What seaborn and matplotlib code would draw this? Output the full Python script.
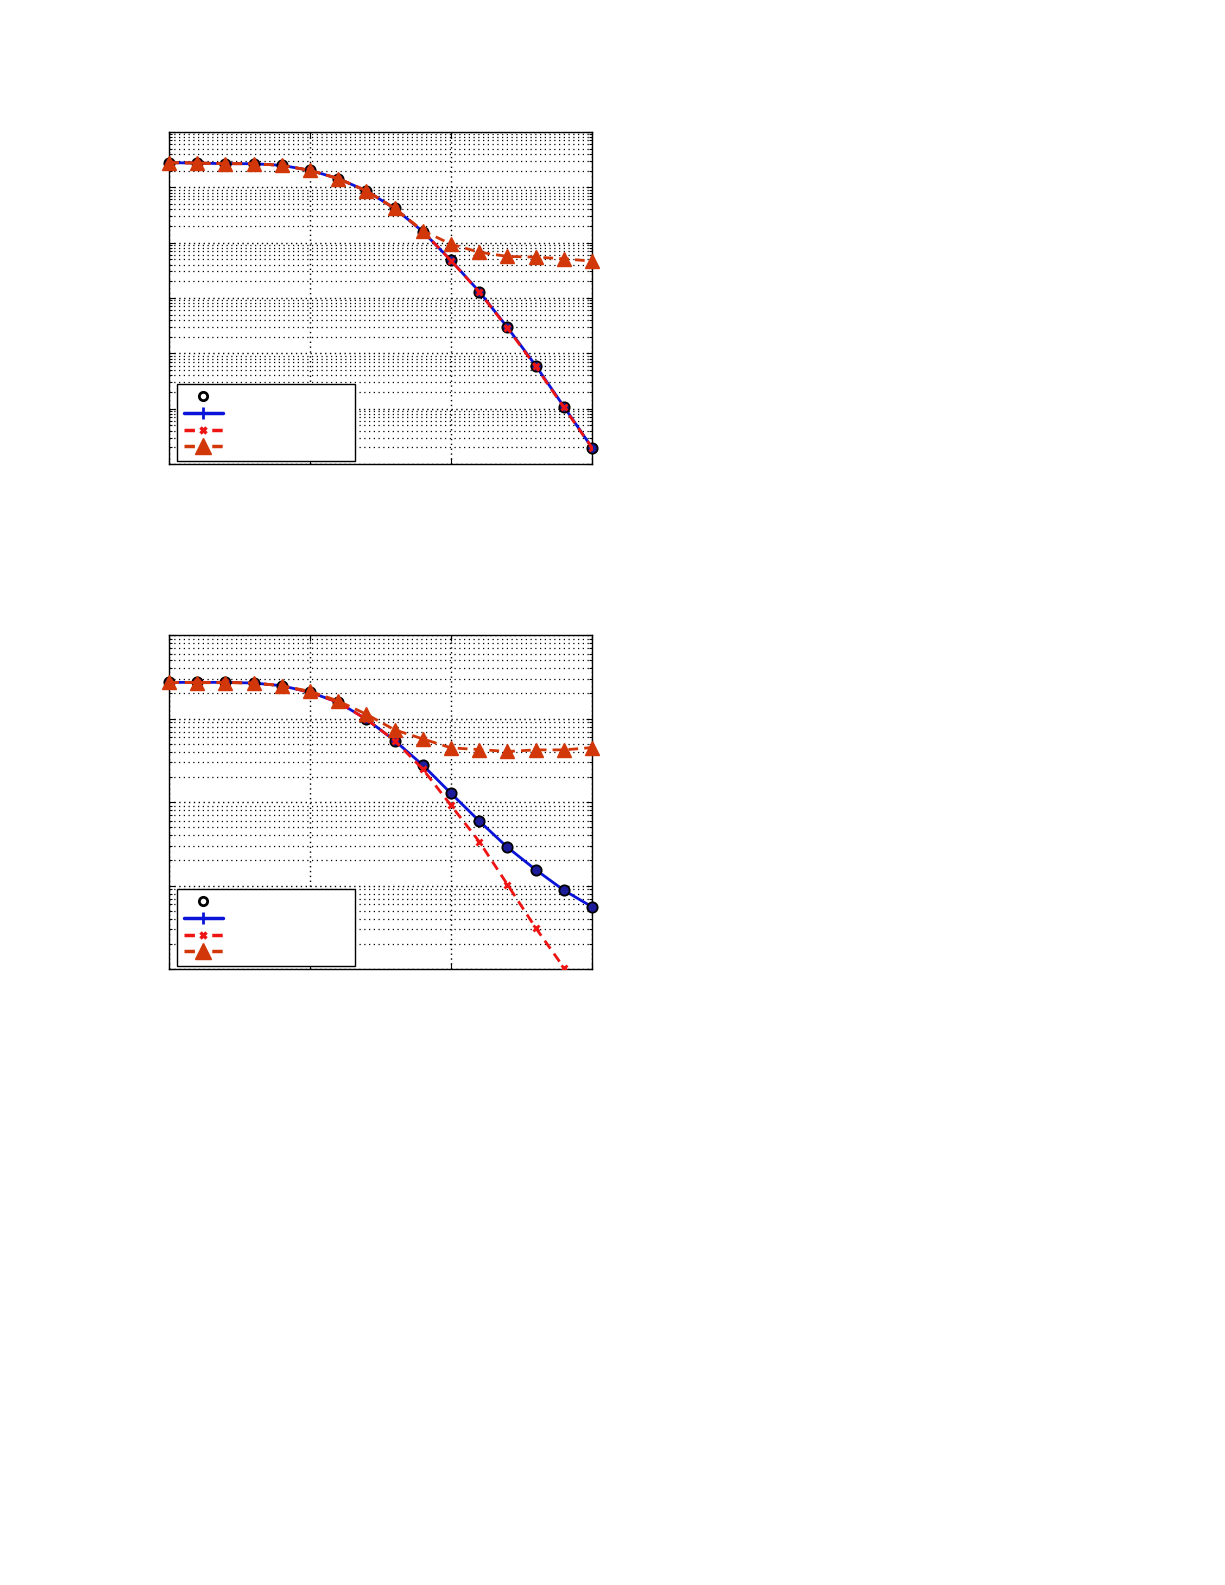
import matplotlib
matplotlib.use('Agg')
import matplotlib.pyplot as plt
from matplotlib.lines import Line2D
from matplotlib.ticker import MultipleLocator, NullLocator, LogLocator, NullFormatter
import seaborn as sns

# SNR axis (dB), 16 points
snr_db = [0, 2, 4, 6, 8, 10, 12, 14, 16, 18, 20, 22, 24, 26, 28, 30]

# upper panel
top_sim = [0.2773, 0.2735, 0.2661, 0.2661, 0.2483, 0.2018, 0.1432, 0.0859,
           0.0414, 0.01578, 0.00475, 0.0013, 2.93e-4, 6.0e-5, 1.09e-5, 1.96e-6]
top_theory = [0.2773, 0.2735, 0.2661, 0.2661, 0.2483, 0.2018, 0.1432, 0.0859,
              0.0414, 0.01578, 0.00475, 0.0013, 2.93e-4, 6.0e-5, 1.09e-5, 1.96e-6]
top_approx = [0.2773, 0.2735, 0.2661, 0.2661, 0.2483, 0.2018, 0.1432, 0.0859,
              0.0414, 0.0160, 0.00470, 0.00128, 2.85e-4, 5.8e-5, 1.05e-5, 1.96e-6]
top_floor = [0.2773, 0.2735, 0.2661, 0.2661, 0.2483, 0.2018, 0.1432, 0.0859,
             0.0414, 0.01644, 0.00933, 0.0067, 0.00561, 0.00546, 0.00509, 0.00462]

# lower panel
bot_sim = [0.2716, 0.2716, 0.2716, 0.2667, 0.2477, 0.2065, 0.1567, 0.0982,
           0.0546, 0.02767, 0.0127, 0.00593, 0.00287, 0.00155, 8.79e-4, 5.56e-4]
bot_theory = [0.2716, 0.2716, 0.2716, 0.2667, 0.2477, 0.2065, 0.1567, 0.0982,
              0.0546, 0.02767, 0.0127, 0.00593, 0.00287, 0.00155, 8.79e-4, 5.56e-4]
bot_approx = [0.2716, 0.2716, 0.2716, 0.2667, 0.2477, 0.2065, 0.1567, 0.0982,
              0.0546, 0.02477, 0.00912, 0.00336, 0.001028, 3.12e-4, 1.04e-4, 3.2e-5]
bot_floor = [0.2716, 0.2692, 0.2692, 0.2667, 0.2477, 0.2123, 0.1626, 0.1127,
             0.0733, 0.0571, 0.0446, 0.0426, 0.0404, 0.0422, 0.0422, 0.0450]

blue = '#0a14d8'
navy = '#1c1c9a'
red = '#ee1414'
orange = '#d2370a'
dash = (0, (3.5, 2.2))
leg_dash = (0, (3, 5))

sns.set_style('ticks')
plt.rcParams['xtick.direction'] = 'in'
plt.rcParams['ytick.direction'] = 'in'

fig = plt.figure(figsize=(12.25, 15.85), dpi=100)
ax_top = fig.add_axes([0.138, 0.7073, 0.3453, 0.2095])
ax_bot = fig.add_axes([0.138, 0.3886, 0.3453, 0.2107])


def draw_panel(ax, sim, theory, approx, floor, ymin):
    sns.lineplot(x=snr_db, y=theory, ax=ax, color=blue, linewidth=2,
                 marker='+', markersize=6, markeredgecolor=blue,
                 markeredgewidth=1.5, zorder=2)
    sns.scatterplot(x=snr_db, y=sim, ax=ax, s=55, color=navy, edgecolor='k',
                    linewidth=1.3, zorder=3, clip_on=False)
    sns.lineplot(x=snr_db, y=approx, ax=ax, color=red, linewidth=2,
                 linestyle=dash, marker='x', markersize=5,
                 markeredgecolor=red, markeredgewidth=2, zorder=4)
    sns.lineplot(x=snr_db, y=floor, ax=ax, color=orange, linewidth=2,
                 linestyle=dash, marker='^', markersize=10,
                 markerfacecolor=orange, markeredgecolor=orange,
                 markeredgewidth=1, zorder=5, clip_on=False)

    ax.set_yscale('log')
    ax.set_xlim(0, 30)
    ax.set_ylim(ymin, 1)
    ax.xaxis.set_major_locator(MultipleLocator(10))
    ax.xaxis.set_minor_locator(NullLocator())
    ax.yaxis.set_major_locator(LogLocator(base=10, numticks=20))
    ax.yaxis.set_minor_locator(LogLocator(base=10, subs=range(2, 10), numticks=100))
    ax.xaxis.set_major_formatter(NullFormatter())
    ax.yaxis.set_major_formatter(NullFormatter())
    ax.yaxis.set_minor_formatter(NullFormatter())
    ax.tick_params(which='both', top=True, right=True, length=4, width=0.8, color='k')
    ax.tick_params(which='minor', length=2)
    ax.grid(True, which='major', color='k', linewidth=1, linestyle=(0, (1, 2.5)))
    ax.grid(True, which='minor', axis='y', color='k', linewidth=0.9, linestyle=(0, (1, 2.8)))
    ax.set_axisbelow(True)
    for sp in ax.spines.values():
        sp.set_color('k')
        sp.set_linewidth(1)
    ax.set_xlabel('')
    ax.set_ylabel('')

    # legend entries carry no text in the original
    handles = [
        Line2D([], [], linestyle='none', marker='o', markerfacecolor='none',
               markeredgecolor='k', markeredgewidth=2, markersize=6),
        Line2D([], [], color=blue, linewidth=2.5, marker='+', markersize=8,
               markeredgewidth=2),
        Line2D([], [], color=red, linewidth=2.5, linestyle=leg_dash, marker='x',
               markersize=5, markeredgewidth=2.5),
        Line2D([], [], color=orange, linewidth=2.5, linestyle=leg_dash, marker='^',
               markersize=11),
    ]
    leg = ax.legend(handles, ['', '', '', ''], loc='lower left',
                    bbox_to_anchor=(0.019, 0.01, 0.421, 0.24), mode='expand',
                    borderaxespad=0, fontsize=9, labelspacing=0.3,
                    borderpad=0.55, handlelength=3.1, fancybox=False,
                    framealpha=1, edgecolor='k')
    leg.get_frame().set_linewidth(1)


draw_panel(ax_top, top_sim, top_theory, top_approx, top_floor, 1e-6)
draw_panel(ax_bot, bot_sim, bot_theory, bot_approx, bot_floor, 1e-4)

fig.savefig('out.png', dpi=100)
